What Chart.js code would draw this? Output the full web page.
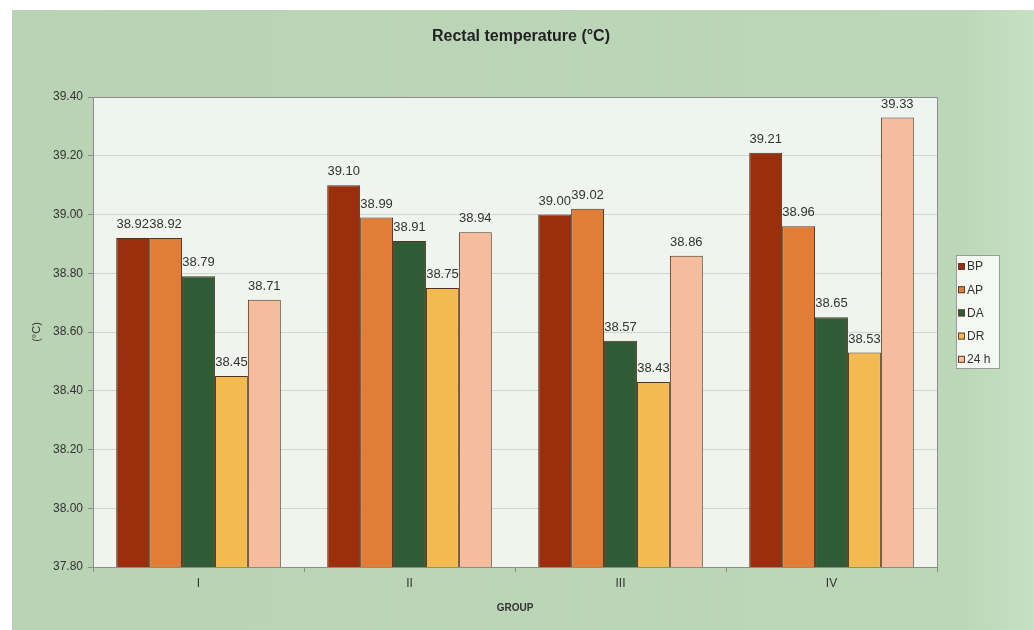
<!DOCTYPE html>
<html>
<head>
<meta charset="utf-8">
<title>Rectal temperature (°C)</title>
<script src="https://cdn.jsdelivr.net/npm/chart.js@4/dist/chart.umd.min.js"></script>
<style>
  html, body { margin: 0; padding: 0; background: #ffffff; }
  #wrap { width: 1034px; height: 630px; position: relative; }
</style>
</head>
<body>
<div id="wrap"><canvas id="chart"></canvas></div>
<script>
// Group categories and the five measurement series
const groups = ['I', 'II', 'III', 'IV'];
const seriesNames = ['BP', 'AP', 'DA', 'DR', '24 h'];
const bpValues = [38.92, 39.10, 39.00, 39.21];
const apValues = [38.92, 38.99, 39.02, 38.96];
const daValues = [38.79, 38.91, 38.57, 38.65];
const drValues = [38.45, 38.75, 38.43, 38.53];
const h24Values = [38.71, 38.94, 38.86, 39.33];
const yMin = 37.80;
const yMax = 39.40;
const yStep = 0.20;
const chartTitle = 'Rectal temperature (°C)';

const seriesColors = ['#9b2f0d', '#e17d36', '#2f5c35', '#f2ba50', '#f5bc9d'];
const seriesValues = [bpValues, apValues, daValues, drValues, h24Values];

const FONT = '"Liberation Sans", Arial, sans-serif';
const TEXT = '#333333';

const datasets = seriesNames.map((name, i) => ({
  label: name,
  data: seriesValues[i],
  backgroundColor: seriesColors[i],
  borderColor: '#4e3520',
  borderWidth: 1,
  borderSkipped: 'bottom',
  barPercentage: 1.0,
  categoryPercentage: 0.78
}));

// Page and plot backgrounds, plus the heading
const backdrop = {
  id: 'backdrop',
  beforeDraw(chart) {
    const { ctx, chartArea: a, width, height } = chart;
    ctx.save();
    ctx.fillStyle = '#ffffff';
    ctx.fillRect(0, 0, width, height);
    const g = ctx.createLinearGradient(12, 0, width, 0);
    g.addColorStop(0, '#b9d3b4');
    g.addColorStop(0.93, '#bcd7b8');
    g.addColorStop(1, '#c6e0c3');
    ctx.fillStyle = g;
    ctx.fillRect(12, 10, width - 12, height - 10);
    const p = ctx.createLinearGradient(0, a.top, 0, a.bottom);
    p.addColorStop(0, '#eef4ef');
    p.addColorStop(1, '#f1f4ec');
    ctx.fillStyle = p;
    ctx.fillRect(a.left, a.top, a.right - a.left, a.bottom - a.top);

    ctx.font = 'bold 16px ' + FONT;
    ctx.fillStyle = '#222222';
    ctx.textAlign = 'center';
    ctx.textBaseline = 'middle';
    ctx.fillText(chartTitle, 521, 37);
    ctx.restore();
  }
};

// Value labels sit behind the bars, so taller neighbours may cover them
const valueLabels = {
  id: 'valueLabels',
  beforeDatasetsDraw(chart) {
    const { ctx } = chart;
    ctx.save();
    ctx.font = '13px ' + FONT;
    ctx.fillStyle = TEXT;
    ctx.textAlign = 'center';
    ctx.textBaseline = 'bottom';
    chart.data.datasets.forEach((ds, i) => {
      chart.getDatasetMeta(i).data.forEach((bar, j) => {
        ctx.fillText(ds.data[j].toFixed(2), bar.x, bar.y - 7);
      });
    });
    ctx.restore();
  }
};

// Plot frame and the boxed legend on the right
const frameAndLegend = {
  id: 'frameAndLegend',
  afterDraw(chart) {
    const { ctx, chartArea: a } = chart;
    ctx.save();
    ctx.strokeStyle = '#8c8c8c';
    ctx.lineWidth = 1;
    ctx.beginPath();
    ctx.moveTo(a.left, a.top + 0.5);
    ctx.lineTo(a.right + 0.5, a.top + 0.5);
    ctx.lineTo(a.right + 0.5, a.bottom);
    ctx.stroke();

    const lx = 956, ly = 255, lw = 43, lh = 113;
    ctx.fillStyle = '#f4f7f2';
    ctx.fillRect(lx, ly, lw, lh);
    ctx.strokeStyle = '#9a9a9a';
    ctx.strokeRect(lx + 0.5, ly + 0.5, lw, lh);
    ctx.font = '12px ' + FONT;
    ctx.textAlign = 'left';
    ctx.textBaseline = 'middle';
    chart.data.datasets.forEach((ds, i) => {
      const cy = 267 + i * 23.2;
      ctx.fillStyle = ds.backgroundColor;
      ctx.fillRect(958, cy - 4, 7, 7);
      ctx.strokeStyle = '#5a4030';
      ctx.strokeRect(958.5, cy - 3.5, 6, 6);
      ctx.fillStyle = TEXT;
      ctx.fillText(ds.label, 967, cy);
    });
    ctx.restore();
  }
};

new Chart(document.getElementById('chart'), {
  type: 'bar',
  data: { labels: groups, datasets },
  plugins: [backdrop, valueLabels, frameAndLegend],
  options: {
    responsive: true,
    maintainAspectRatio: false,
    animation: false,
    layout: { padding: { left: 0, right: 97, top: 97, bottom: 0 } },
    plugins: {
      legend: { display: false },
      tooltip: { enabled: false },
      title: { display: false }
    },
    scales: {
      x: {
        afterFit(scale) { scale.height = 63; },
        grid: {
          display: true,
          offset: true,
          drawOnChartArea: false,
          tickLength: 5,
          tickColor: '#8c8c8c'
        },
        border: { display: true, color: '#8c8c8c', width: 1 },
        ticks: {
          color: TEXT,
          font: { family: FONT, size: 12 },
          padding: 4
        },
        title: {
          display: true,
          text: 'GROUP',
          color: '#333333',
          font: { family: FONT, size: 10, weight: 'bold' },
          padding: { top: 0, bottom: 16 }
        }
      },
      y: {
        min: yMin,
        max: yMax,
        afterFit(scale) { scale.width = 93; },
        grid: {
          color: '#cfd6cf',
          lineWidth: 1,
          tickLength: 5,
          tickColor: '#8c8c8c'
        },
        border: { display: true, color: '#8c8c8c', width: 1 },
        ticks: {
          stepSize: yStep,
          color: TEXT,
          font: { family: FONT, size: 12 },
          padding: 5,
          callback: (v) => Number(v).toFixed(2)
        },
        title: {
          display: true,
          text: '(°C)',
          color: TEXT,
          font: { family: FONT, size: 11 },
          padding: { top: 30, bottom: 0 }
        }
      }
    }
  }
});
</script>
</body>
</html>
